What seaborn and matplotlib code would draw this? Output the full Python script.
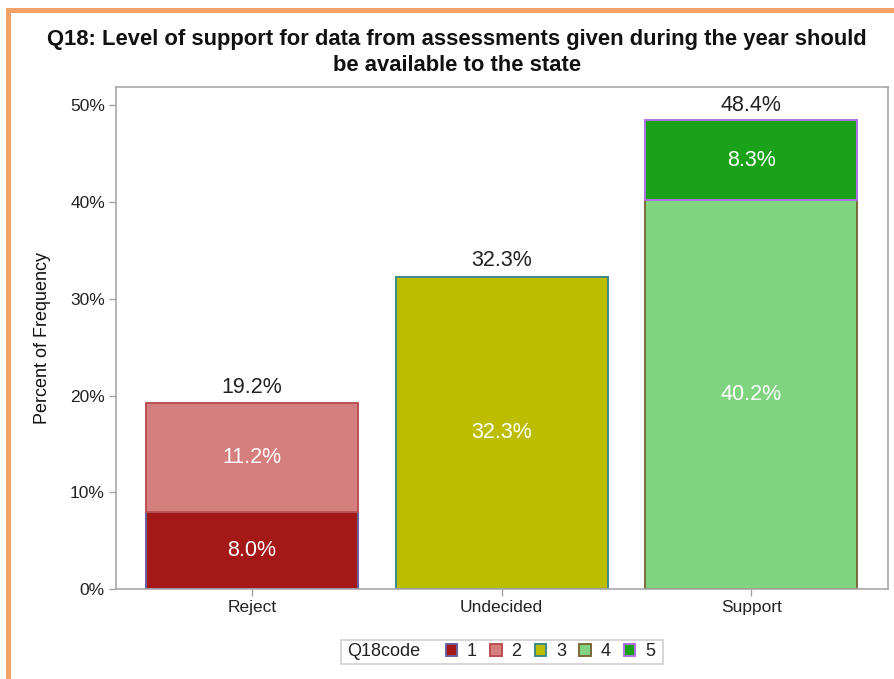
import matplotlib
matplotlib.use("Agg")
import matplotlib.pyplot as plt
from matplotlib.patches import Patch, Rectangle
import seaborn as sns
import pandas as pd

categories = ["Reject", "Undecided", "Support"]
codes = ["1", "2", "3", "4", "5"]
code_category = ["Reject", "Reject", "Undecided", "Support", "Support"]
code_values = [8.0, 11.2, 32.3, 40.2, 8.3]
totals = [19.2, 32.3, 48.4]
yticks = [0, 10, 20, 30, 40, 50]

face_colors = ["#A51818", "#D47E7E", "#BDBD00", "#80D480", "#1AA31A"]
edge_colors = ["#6A5E9E", "#B85050", "#3A8A8A", "#7A6A3A", "#B070E8"]

sns.set_style("white")
plt.rcParams["font.family"] = ["Liberation Sans", "DejaVu Sans"]

W, H = 895, 679
fig = plt.figure(figsize=(W / 100, H / 100), dpi=100)
ax = fig.add_axes([116 / W, (H - 589) / H, 772 / W, 502 / H])

df = pd.DataFrame({"cat": code_category, "code": codes, "val": code_values})

bottoms = {c: 0.0 for c in categories}
for i, row in df.iterrows():
    b = bottoms[row["cat"]]
    sns.barplot(data=df.iloc[[i]], x="cat", y="val", order=categories,
                color=face_colors[i], saturation=1, width=0.85, errorbar=None,
                bottom=b, edgecolor=edge_colors[i], linewidth=1.4, ax=ax)
    ax.text(categories.index(row["cat"]), b + row["val"] / 2, f"{row['val']:.1f}%",
            ha="center", va="center", color="white", fontsize=15.5)
    bottoms[row["cat"]] = b + row["val"]

for j, t in enumerate(totals):
    ax.text(j, t + 0.55, f"{t:.1f}%", ha="center", va="bottom", color="#222222", fontsize=15.5)

ax.set_xlim(-0.545, 2.548)
ax.set_ylim(0, 51.9)
ax.set_yticks(yticks)
ax.set_yticklabels([f"{v}%" for v in yticks])
ax.set_xlabel("")
ax.set_ylabel("Percent of Frequency", fontsize=13, color="#111111")
ax.yaxis.set_label_coords(-0.084, 0.5)
ax.tick_params(axis="both", which="both", direction="out", length=5, width=1,
               color="#A0A0A0", labelsize=12.5, labelcolor="#222222", left=True, bottom=True,
               pad=3)
for s in ax.spines.values():
    s.set_color("#A8A8A8")
    s.set_linewidth(1.2)

# legend: frame, title text, and entries
fig.add_artist(Rectangle((341 / W, 1 - 664 / H), 322 / W, 24 / H, transform=fig.transFigure,
                         facecolor="white", edgecolor="#D0D0D0", linewidth=1.2, zorder=5))
fig.text(347 / W, 1 - 652 / H, "Q18code", ha="left", va="center", fontsize=13,
         color="#222222", zorder=6)
handles = [Patch(facecolor=face_colors[i], edgecolor=edge_colors[i], linewidth=1.4, label=c)
           for i, c in enumerate(codes)]
leg = fig.legend(handles=handles, loc="center left", bbox_to_anchor=(446 / W, 1 - 652 / H),
                 ncol=5, fontsize=13, frameon=False, handlelength=0.62, handleheight=0.62,
                 handletextpad=0.55, columnspacing=0.74, borderpad=0, borderaxespad=0)
leg.set_zorder(7)
for t in leg.get_texts():
    t.set_color("#222222")

fig.text(457 / W, 1 - 52.5 / H,
         "Q18: Level of support for data from assessments given during the year should\nbe available to the state",
         ha="center", va="center", fontsize=15.8, fontweight="bold", color="#111111", linespacing=1.3)

orange = "#F2A266"
fig.add_artist(Rectangle((6 / W, 1 - 13 / H), 1 - 6 / W, 5 / H, transform=fig.transFigure,
                         facecolor=orange, edgecolor="none"))
fig.add_artist(Rectangle((6 / W, 0), 5 / W, 1 - 8 / H, transform=fig.transFigure,
                         facecolor=orange, edgecolor="none"))

fig.savefig("out.png", dpi=100)
